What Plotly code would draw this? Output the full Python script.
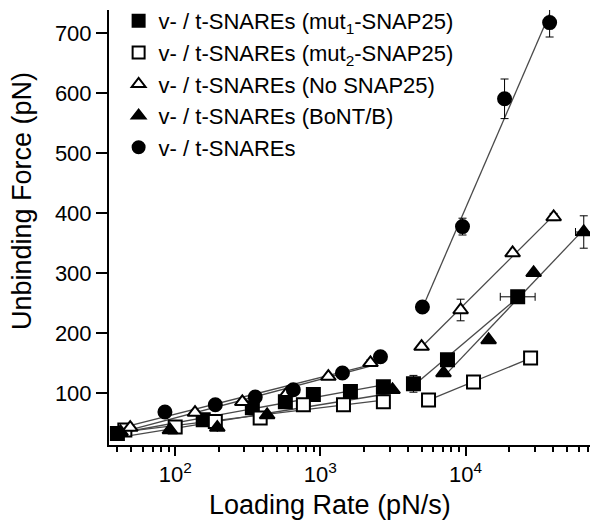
import numpy as np
import plotly.graph_objects as go

# ---- data ----
names = [
    "v- / t-SNAREs (mut<sub>1</sub>-SNAP25)",
    "v- / t-SNAREs (mut<sub>2</sub>-SNAP25)",
    "v- / t-SNAREs (No SNAP25)",
    "v- / t-SNAREs (BoNT/B)",
    "v- / t-SNAREs",
]

rate_mut1 = [40, 156, 340, 574, 895, 1611, 2717, 4377, 7510, 22870]
force_mut1 = [32, 55, 75, 85, 97, 102, 110, 115, 155, 260]
ey_mut1 = [0, 0, 0, 0, 0, 0, 0, 14, 0, 0]
ex_mut1_plus = [0, 0, 0, 0, 0, 0, 0, 0, 0, 7280]
ex_mut1_minus = [0, 0, 0, 0, 0, 0, 0, 0, 0, 5520]

rate_mut2 = [45, 100, 189, 385, 764, 1443, 2717, 5560, 11350, 28060]
force_mut2 = [38, 43, 52, 58, 80, 80, 85, 88, 118, 158]
ey_mut2 = [0, 0, 0, 0, 0, 0, 0, 0, 0, 0]

rate_nosnap = [49, 137, 290, 592, 1135, 2214, 4980, 9250, 21100, 40450]
force_nosnap = [42, 67, 85, 100, 127, 150, 177, 238, 333, 393]
ey_nosnap = [0, 0, 0, 0, 0, 5, 0, 18, 0, 6]

rate_bont = [42, 92, 195, 430, 3140, 7050, 14420, 29440, 65200]
force_bont = [35, 38, 42, 63, 105, 133, 188, 300, 368]
ey_bont = [0, 0, 0, 0, 0, 0, 0, 0, 27]
ex_bont_plus = [0, 0, 0, 0, 0, 0, 0, 0, 9130]
ex_bont_minus = [0, 0, 0, 0, 0, 0, 0, 0, 8000]

rate_wt = [85, 189, 356, 651, 1419, 2594, 5047, 9530, 18570, 37950]
force_wt = [68, 80, 93, 105, 133, 160, 243, 377, 590, 717]
ey_wt = [0, 0, 0, 0, 0, 0, 8, 14, 33, 24]

regime_split = 4000  # pN/s, boundary between the two fitted regimes

x_tick_vals = [100, 1000, 10000]
x_tick_text = ["10<sup>2</sup>", "10<sup>3</sup>", "10<sup>4</sup>"]
y_tick_vals = [100, 200, 300, 400, 500, 600, 700]
x_title = "Loading Rate (pN/s)"
y_title = "Unbinding Force (pN)"

FONT = "Liberation Sans, Arial, sans-serif"
LINE_COL = "#4a4a4a"

series = [
    dict(name=names[0], x=rate_mut1, y=force_mut1, ey=ey_mut1,
         exp=ex_mut1_plus, exm=ex_mut1_minus, symbol="square", fill="black"),
    dict(name=names[1], x=rate_mut2, y=force_mut2, ey=ey_mut2,
         exp=None, exm=None, symbol="square", fill="white"),
    dict(name=names[2], x=rate_nosnap, y=force_nosnap, ey=ey_nosnap,
         exp=None, exm=None, symbol="triangle-up", fill="white"),
    dict(name=names[3], x=rate_bont, y=force_bont, ey=ey_bont,
         exp=ex_bont_plus, exm=ex_bont_minus, symbol="triangle-up", fill="black"),
    dict(name=names[4], x=rate_wt, y=force_wt, ey=ey_wt,
         exp=None, exm=None, symbol="circle", fill="black"),
]

fig = go.Figure()

global_min = min(min(s["x"]) for s in series)

# fitted lines (force vs log rate) for each regime
for s in series:
    x = np.array(s["x"], dtype=float)
    y = np.array(s["y"], dtype=float)
    for lo in (True, False):
        m = x < regime_split if lo else x >= regime_split
        if m.sum() < 2:
            continue
        lx = np.log10(x[m])
        k, b = np.polyfit(lx, y[m], 1)
        x0 = np.log10(global_min) - 0.03 if lo else lx.min()
        x1 = lx.max()
        xs = [10 ** x0, 10 ** x1]
        ys = [k * x0 + b, k * x1 + b]
        fig.add_trace(go.Scatter(x=xs, y=ys, mode="lines",
                                 line=dict(color=LINE_COL, width=1.3),
                                 showlegend=False, hoverinfo="skip"))

for s in series:
    err_x = None
    if s["exp"] is not None:
        err_x = dict(type="data", symmetric=False, array=s["exp"],
                     arrayminus=s["exm"], color="black", thickness=1, width=4)
    fig.add_trace(go.Scatter(
        x=s["x"], y=s["y"], mode="markers", name=s["name"],
        marker=dict(symbol=s["symbol"], size=13, color=s["fill"],
                    line=dict(color="black", width=2)),
        error_y=dict(type="data", array=s["ey"], color="black",
                     thickness=1, width=4, visible=True),
        error_x=err_x,
    ))

minor_vals = []
for d in (10, 100, 1000, 10000):
    for k in range(2, 10):
        v = k * d
        if 35 <= v <= 72000:
            minor_vals.append(v)

# page body has an 8px margin; figure sized so the plot lands where the reference has it
W, H = 593, 519
ML, MR, MT, MB = 101, 11, 2, 82
pw, ph = W - ML - MR, H - MT - MB


def px_to_paper(fx, fy):
    return (fx - ML) / pw, (H - MB - fy) / ph


fig.update_layout(
    width=W, height=H,
    margin=dict(l=ML, r=MR, t=MT, b=MB, autoexpand=False),
    paper_bgcolor="white", plot_bgcolor="white",
    font=dict(family=FONT, size=22, color="black"),
    legend=dict(x=0.02, xref="paper", y=1 + 10 / ph, yref="paper",
                xanchor="left", yanchor="top",
                bgcolor="rgba(0,0,0,0)", font=dict(size=22),
                itemsizing="constant", tracegroupgap=0),
    xaxis=dict(
        type="log", range=[np.log10(35), np.log10(72000)],
        tickvals=x_tick_vals, ticktext=x_tick_text,
        ticks="outside", ticklen=9, tickwidth=1.5, tickcolor="black",
        showline=True, linecolor="black", linewidth=2, showgrid=False,
        zeroline=False, mirror=False, automargin=False,
        minor=dict(tickvals=minor_vals, ticks="outside", ticklen=5,
                   tickwidth=1.5, tickcolor="black", showgrid=False),
        tickfont=dict(size=22),
    ),
    yaxis=dict(
        range=[13, 738], tickvals=y_tick_vals,
        ticks="outside", ticklen=11, tickwidth=1.5, tickcolor="black",
        showline=True, linecolor="black", linewidth=2, showgrid=False,
        zeroline=False, tickfont=dict(size=22), automargin=False,
    ),
)

xt_x, xt_y = px_to_paper(322, 497)
yt_x, yt_y = px_to_paper(14, 193)
fig.add_annotation(text=x_title, xref="paper", yref="paper", x=xt_x, y=xt_y,
                   xanchor="center", yanchor="middle", showarrow=False,
                   font=dict(size=27))
fig.add_annotation(text=y_title, xref="paper", yref="paper", x=yt_x, y=yt_y,
                   xanchor="center", yanchor="middle", showarrow=False,
                   textangle=-90, font=dict(size=27))

fig.write_html("out.html")
